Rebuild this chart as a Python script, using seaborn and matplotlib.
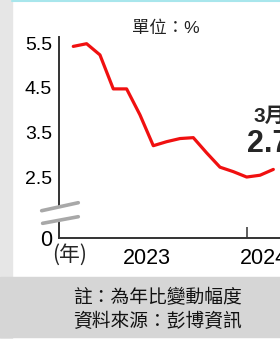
import numpy as np
import pandas as pd
import matplotlib
matplotlib.use('Agg')
import matplotlib.pyplot as plt
import seaborn as sns
from matplotlib.patches import Rectangle
from matplotlib.lines import Line2D

# dati (variazione annua, %)
months = ['2022-12', '2023-01', '2023-02', '2023-03', '2023-04', '2023-05',
          '2023-06', '2023-07', '2023-08', '2023-09', '2023-10', '2023-11',
          '2023-12', '2024-01', '2024-02', '2024-03']
values = [5.43, 5.49, 5.24, 4.48, 4.48, 3.9, 3.21, 3.3, 3.37, 3.39,
          3.05, 2.73, 2.63, 2.51, 2.55, 2.68]
year_labels = ['2023', '2024']
ytick_labels = ['0', '2.5', '3.5', '4.5', '5.5']
ytick_values = [2.5, 3.5, 4.5, 5.5]

unit_text = '單位：%'
note_text = '註：為年比變動幅度'
source_text = '資料來源：彭博資訊'

sns.set_theme(style='white')
plt.rcParams['font.family'] = ['Liberation Sans', 'Noto Sans CJK TC', 'DejaVu Sans']

df = pd.DataFrame({'month': months, 'val': values})
df['x'] = np.arange(len(df))

fig = plt.figure(figsize=(2.8, 3.39), dpi=100)
fig.patch.set_facecolor('white')

# sfondo: striscia sinistra, banda note in basso, linea ciano in alto
fig.add_artist(Rectangle((0, 0), 12 / 280, 1, transform=fig.transFigure,
                         color='#e6e6e6', zorder=0))
fig.add_artist(Rectangle((0, 2 / 339), 1, 60 / 339, transform=fig.transFigure,
                         color='#d6d6d6', zorder=0))
fig.add_artist(Line2D([12 / 280, 1], [1 - 1 / 339, 1 - 1 / 339],
                      transform=fig.transFigure, color='#a8e6ec', lw=1.5))

ax = fig.add_axes([59 / 280, 101 / 339, 1 - 59 / 280, 201 / 339])
ax.set_facecolor('none')

sns.lineplot(data=df, x='x', y='val', ax=ax, color='#f01010', lw=2.3,
             solid_joinstyle='round', solid_capstyle='round', clip_on=False)

y0 = 1.147
ax.set_ylim(y0, 5.64)
ax.set_xlim(-1.07, 15.5)

ax.set_yticks([y0] + ytick_values)
ax.set_yticklabels(ytick_labels)
ax.tick_params(axis='y', direction='in', length=9.4, width=1.1, color='#333333',
               pad=5, labelsize=14, labelcolor='black')
ax.yaxis.get_major_ticks()[0].tick1line.set_visible(False)
ax.get_yticklabels()[0].set_fontsize(15.5)

# etichette degli anni + tacca di inizio 2024
ax.set_xticks([5.5, 14.3])
ax.set_xticklabels(year_labels)
ax.tick_params(axis='x', length=0, pad=7, labelsize=15.5, labelcolor='black')
ax.set_xticks([13], minor=True)
ax.tick_params(axis='x', which='minor', direction='in', length=8, width=1.1,
               color='#333333', bottom=True)
ax.set_xlabel('')
ax.set_ylabel('')

for s in ['top', 'right']:
    ax.spines[s].set_visible(False)
for s in ['left', 'bottom']:
    ax.spines[s].set_color('#333333')
    ax.spines[s].set_linewidth(1.4)

# interruzione dell'asse y
ax.fill([-2.37, 0.375, 0.375, -2.30], [1.757, 1.936, 1.623, 1.475],
        color='white', zorder=5, clip_on=False)
ax.plot([-2.37, 0.375], [1.757, 1.936], color='#a8a8a8', lw=2.6, zorder=6,
        clip_on=False)
ax.plot([-2.30, 0.375], [1.475, 1.623], color='#a8a8a8', lw=2.6, zorder=6,
        clip_on=False)

# valore dell'ultimo mese
last_month = int(months[-1].split('-')[1])
fig.text(254 / 280, 1 - 116 / 339, f'{last_month}月', fontsize=15,
         fontweight='bold', va='center', ha='left')
fig.text(247 / 280, 1 - 144 / 339, f'{values[-1]:.1f}', fontsize=22,
         fontweight='bold', va='center', ha='left')

fig.text(70 / 280, 1 - 255 / 339, '(年)', fontsize=15, ha='center', va='center',
         family=['Noto Sans CJK TC', 'DejaVu Sans'])
fig.text(166 / 280, 1 - 28 / 339, unit_text, fontsize=12.5, ha='center',
         va='center', color='#222222')
fig.text(157 / 280, 1 - 298 / 339, note_text, fontsize=13.5, ha='center',
         va='center', color='#111111', family=['Noto Sans CJK TC', 'DejaVu Sans'])
fig.text(157 / 280, 1 - 322 / 339, source_text, fontsize=13.5, ha='center',
         va='center', color='#111111', family=['Noto Sans CJK TC', 'DejaVu Sans'])

fig.savefig('out.png', dpi=100)
